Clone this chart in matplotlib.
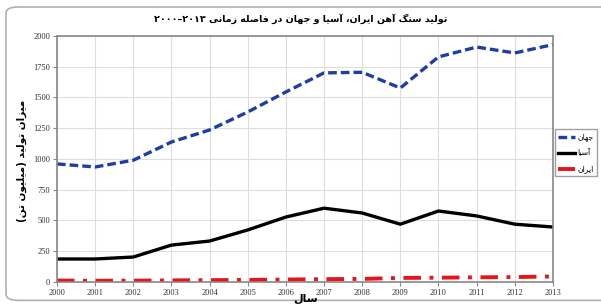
import matplotlib
matplotlib.use("Agg")
import matplotlib.pyplot as plt
from matplotlib.patches import FancyBboxPatch

years = list(range(2000, 2014))
world = [960, 935, 990, 1138, 1236, 1382, 1545, 1700, 1705, 1577, 1830, 1910, 1862, 1930]
asia = [187, 187, 203, 300, 333, 423, 528, 600, 561, 470, 577, 537, 470, 447]
iran = [12, 10, 11, 13, 15, 17, 20, 23, 25, 33, 35, 38, 40, 45]
y_ticks = [0, 250, 500, 750, 1000, 1250, 1500, 1750, 2000]

title = "تولید سنگ آهن ایران، آسیا و جهان در فاصله زمانی ۲۰۰۰–۲۰۱۳"
ylabel = "میزان تولید (میلیون تن)"
xlabel = "سال"
names = ["جهان", "آسیا", "ایران"]

# presentation forms: isolated, final, initial, medial
FORMS = {
    "ا": ("\uFE8D", "\uFE8E"), "آ": ("\uFE81", "\uFE82"),
    "د": ("\uFEA9", "\uFEAA"), "ر": ("\uFEAD", "\uFEAE"),
    "ز": ("\uFEAF", "\uFEB0"), "و": ("\uFEED", "\uFEEE"),
    "ت": ("\uFE95", "\uFE96", "\uFE97", "\uFE98"),
    "ج": ("\uFE9D", "\uFE9E", "\uFE9F", "\uFEA0"),
    "س": ("\uFEB1", "\uFEB2", "\uFEB3", "\uFEB4"),
    "ص": ("\uFEB9", "\uFEBA", "\uFEBB", "\uFEBC"),
    "ف": ("\uFED1", "\uFED2", "\uFED3", "\uFED4"),
    "ل": ("\uFEDD", "\uFEDE", "\uFEDF", "\uFEE0"),
    "م": ("\uFEE1", "\uFEE2", "\uFEE3", "\uFEE4"),
    "ن": ("\uFEE5", "\uFEE6", "\uFEE7", "\uFEE8"),
    "ه": ("\uFEE9", "\uFEEA", "\uFEEB", "\uFEEC"),
    "ی": ("\uFBFC", "\uFBFD", "\uFBFE", "\uFBFF"),
    "گ": ("\uFB92", "\uFB93", "\uFB94", "\uFB95"),
}


def shape(text):
    out = []
    for i, c in enumerate(text):
        if c not in FORMS:
            out.append(c)
            continue
        prev = text[i - 1] if i > 0 else ""
        nxt = text[i + 1] if i + 1 < len(text) else ""
        join_prev = prev in FORMS and len(FORMS[prev]) == 4
        join_next = nxt in FORMS and len(FORMS[c]) == 4
        f = FORMS[c]
        if join_prev and join_next:
            out.append(f[3])
        elif join_prev:
            out.append(f[1])
        elif join_next:
            out.append(f[2])
        else:
            out.append(f[0])
    s = "".join(out)
    # visual order: reverse, keep digit runs left to right
    runs, cur, is_num = [], "", None
    for c in s:
        n = c in "۰۱۲۳۴۵۶۷۸۹0123456789–-"
        if is_num is None or n == is_num:
            cur += c
        else:
            runs.append((cur, is_num))
            cur = c
        is_num = n
    runs.append((cur, is_num))
    res = ""
    for r, n in reversed(runs):
        if n:
            res += r
        else:
            res += r[::-1].translate(str.maketrans("()", ")("))
    return res


plt.rcParams["font.family"] = ["DejaVu Sans"]

fig = plt.figure(figsize=(6.01, 3.04), dpi=100)
ax = fig.add_axes([0.0948, 0.0724, 0.8252, 0.8092])

fig.patches.append(FancyBboxPatch((0.01, 0.012), 1.05, 0.965, boxstyle="round,pad=0,rounding_size=0.02",
                                  transform=fig.transFigure, fill=False, ec="#b0b0b0", lw=1.2))

ax.plot(years, world, color="#1f3fa0", lw=2.4, ls=(0, (2.6, 1.2)), label=shape(names[0]))
ax.plot(years, asia, color="black", lw=2.4, label=shape(names[1]))
ax.plot(years, iran, color="#e8141c", lw=2.8, ls=(0, (4.5, 2.2, 1, 2.2)), label=shape(names[2]))

ax.set_xlim(2000, 2013)
ax.set_ylim(0, 2000)
ax.set_xticks(years)
ax.set_yticks(y_ticks)
ax.grid(color="#dddddd", lw=0.8)
ax.set_axisbelow(True)
for s in ax.spines.values():
    s.set_color("#888888")
    s.set_linewidth(1.2)
ax.tick_params(axis="both", labelsize=6, length=3, color="#888888", pad=2)
for t in ax.get_xticklabels() + ax.get_yticklabels():
    t.set_family("Liberation Serif")
    t.set_color("#333333")

fig.text(0.5, 0.94, shape(title), fontsize=6.8, fontweight="bold", ha="center", va="center")
fig.text(0.037, 0.47, shape(ylabel), rotation=90, fontsize=7.5, fontweight="bold",
         ha="center", va="center")
fig.text(0.508, 0.0, shape(xlabel), fontsize=8, fontweight="bold", ha="center", va="bottom")

leg = ax.legend(loc="center left", bbox_to_anchor=(1.0, 0.525), fontsize=5.5, frameon=True,
                fancybox=False, edgecolor="#888888", handlelength=2.2, handletextpad=0.3,
                borderaxespad=0.3, labelspacing=0.9)
leg.get_frame().set_linewidth(1.0)

fig.savefig("out.png", dpi=100)
